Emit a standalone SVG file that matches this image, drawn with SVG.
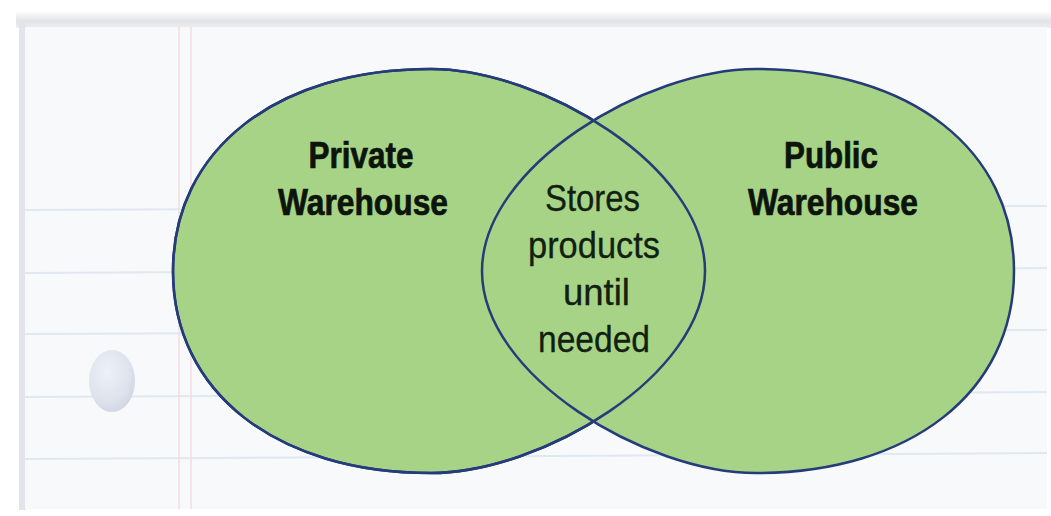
<svg xmlns="http://www.w3.org/2000/svg" xmlns:xlink="http://www.w3.org/1999/xlink" width="1051" height="516" viewBox="0 0 1051 516">
<style>
.rule{stroke:#e0e8f1;stroke-width:2;fill:none}
.margin{stroke:#f3dce0;stroke-width:1.5;fill:none}
.set{fill:#a6d385;stroke:#263b7a;stroke-width:2.5}
.outline{fill:none;stroke:#263b7a;stroke-width:2.5}
.title{font-family:"Liberation Sans",Arial,sans-serif;font-weight:bold;font-size:36px;fill:#0c140c;stroke:#0c140c;stroke-width:0.7;text-anchor:middle}
.body{font-family:"Liberation Sans",Arial,sans-serif;font-size:37px;fill:#112011;stroke:#112011;stroke-width:0.3;text-anchor:middle}
</style>
<defs>
<linearGradient id="topShade" x1="0" y1="0" x2="0" y2="1">
<stop offset="0" stop-color="#ffffff"/>
<stop offset="0.6" stop-color="#e2e3e7"/>
<stop offset="1" stop-color="#eceef1"/>
</linearGradient>
<radialGradient id="holeFill" cx="0.4" cy="0.35" r="0.7">
<stop offset="0" stop-color="#eef1f7"/>
<stop offset="0.7" stop-color="#dde2ec"/>
<stop offset="1" stop-color="#cfd5e2"/>
</radialGradient>
<path id="leftShape" d="M 173,271 C 173,150 276,69 431,69 C 541,69 705,166 705,271 C 705,376 541,473 431,473 C 276,473 173,392 173,271 Z"/>
<path id="rightShape" d="M 1014,271 C 1014,150 911,69 756,69 C 646,69 482,166 482,271 C 482,376 646,473 756,473 C 911,473 1014,392 1014,271 Z"/>
</defs>

<g id="paper">
<rect x="0" y="0" width="1051" height="516" fill="#ffffff"/>
<rect x="16" y="11" width="1035" height="17" fill="url(#topShade)"/>
<rect x="19" y="22" width="7" height="488" fill="#e3e4e9"/>
<rect x="25" y="27" width="1022" height="482" fill="#f8f9fb"/>
<line class="rule" x1="25" y1="210" x2="1047" y2="206"/>
<line class="rule" x1="25" y1="273" x2="1047" y2="268"/>
<line class="rule" x1="25" y1="334" x2="1047" y2="330"/>
<line class="rule" x1="25" y1="397" x2="1047" y2="392"/>
<line class="rule" x1="25" y1="459" x2="1047" y2="453"/>
<line class="margin" x1="179" y1="27" x2="179" y2="509"/>
<line class="margin" x1="191" y1="27" x2="191" y2="509"/>
<ellipse cx="112" cy="381" rx="23" ry="31" fill="url(#holeFill)"/>
</g>

<g id="connectors"></g>

<g id="node-private">
<use xlink:href="#leftShape" class="set"/>
</g>

<g id="node-public">
<use xlink:href="#rightShape" class="set"/>
</g>

<g id="node-overlap">
<use xlink:href="#leftShape" class="outline"/>
<text class="body" x="592.5" y="211" textLength="95" lengthAdjust="spacingAndGlyphs">Stores</text>
<text class="body" x="594" y="258" textLength="132" lengthAdjust="spacingAndGlyphs">products</text>
<text class="body" x="596.5" y="305" textLength="67" lengthAdjust="spacingAndGlyphs">until</text>
<text class="body" x="594" y="352" textLength="112" lengthAdjust="spacingAndGlyphs">needed</text>
</g>

<g id="label-private">
<text class="title" x="361" y="168" textLength="105" lengthAdjust="spacingAndGlyphs">Private</text>
<text class="title" x="363" y="215" textLength="170" lengthAdjust="spacingAndGlyphs">Warehouse</text>
</g>

<g id="label-public">
<text class="title" x="831" y="168" textLength="94" lengthAdjust="spacingAndGlyphs">Public</text>
<text class="title" x="833" y="215" textLength="170" lengthAdjust="spacingAndGlyphs">Warehouse</text>
</g>
</svg>
